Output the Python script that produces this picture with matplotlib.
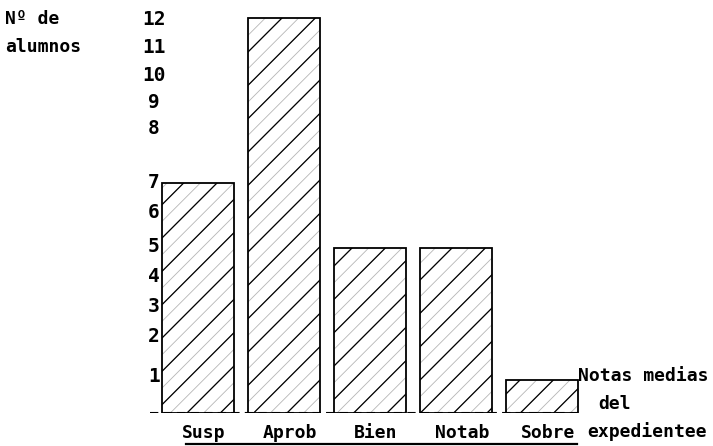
import matplotlib
matplotlib.use("Agg")
import matplotlib.pyplot as plt
from matplotlib.lines import Line2D

categories = ["Susp", "Aprob", "Bien", "Notab", "Sobre"]
alumnos = [7, 12, 5, 5, 1]
tick_labels = ["12", "11", "10", "9", "8", "7", "6", "5", "4", "3", "2", "1"]
# label positions as they appear on the printout (slightly irregular)
tick_pos = [11.95, 11.12, 10.27, 9.45, 8.66, 7.02, 6.08, 5.05, 4.16, 3.25, 2.34, 1.12]

W, H = 713, 446
fig = plt.figure(figsize=(W / 100, H / 100), dpi=100)
fig.patch.set_facecolor("white")

def fx(px):
    return px / W

def fy(py):
    return (H - py) / H

ax = fig.add_axes([fx(150), fy(413), fx(600) - fx(150), fy(5) - fy(413)])
ax.set_xlim(-0.558, 4.674)
ax.set_ylim(0, 12.4)
ax.axis("off")

font = dict(family="DejaVu Sans Mono", fontweight="bold")

x = list(range(len(categories)))
# light dotted-looking hatch layer
plt.rcParams["hatch.linewidth"] = 0.6
ax.bar(x, alumnos, width=0.837, facecolor="white", edgecolor="#b5b5b5",
       linewidth=0, hatch="//", zorder=2)
# darker sparse hatch + outline
plt.rcParams["hatch.linewidth"] = 0.9
ax.bar(x, alumnos, width=0.837, facecolor="none", edgecolor="black",
       linewidth=1.3, hatch="/", zorder=3)

# dashed baseline
ax.axhline(0, xmin=0.0, xmax=(4.42 + 0.558) / (4.674 + 0.558), color="black",
           linewidth=1.5, linestyle=(0, (4, 2.5)), zorder=4)

# y tick numbers
for pos, lab in zip(tick_pos, tick_labels):
    ax.text(-0.512, pos, lab, ha="center", va="center", fontsize=14,
            clip_on=False, **font)

# category labels
for xi, cat in zip(x, categories):
    ax.text(xi + 0.07, -0.6, cat, ha="center", va="center", fontsize=13,
            clip_on=False, **font)

# underline under category labels
fig.add_artist(Line2D([fx(186), fx(577)], [fy(444), fy(444)], color="black",
                      linewidth=1.6))

# axis titles
fig.text(fx(5), fy(19), "Nº de", ha="left", va="center", fontsize=13, **font)
fig.text(fx(5), fy(47), "alumnos", ha="left", va="center", fontsize=13, **font)
fig.text(fx(578), fy(376), "Notas medias", ha="left", va="center", fontsize=13, **font)
fig.text(fx(598), fy(404), "del", ha="left", va="center", fontsize=13, **font)
fig.text(fx(587), fy(432), "expedientee", ha="left", va="center", fontsize=13, **font)

fig.savefig("out.png", dpi=100, facecolor="white")
